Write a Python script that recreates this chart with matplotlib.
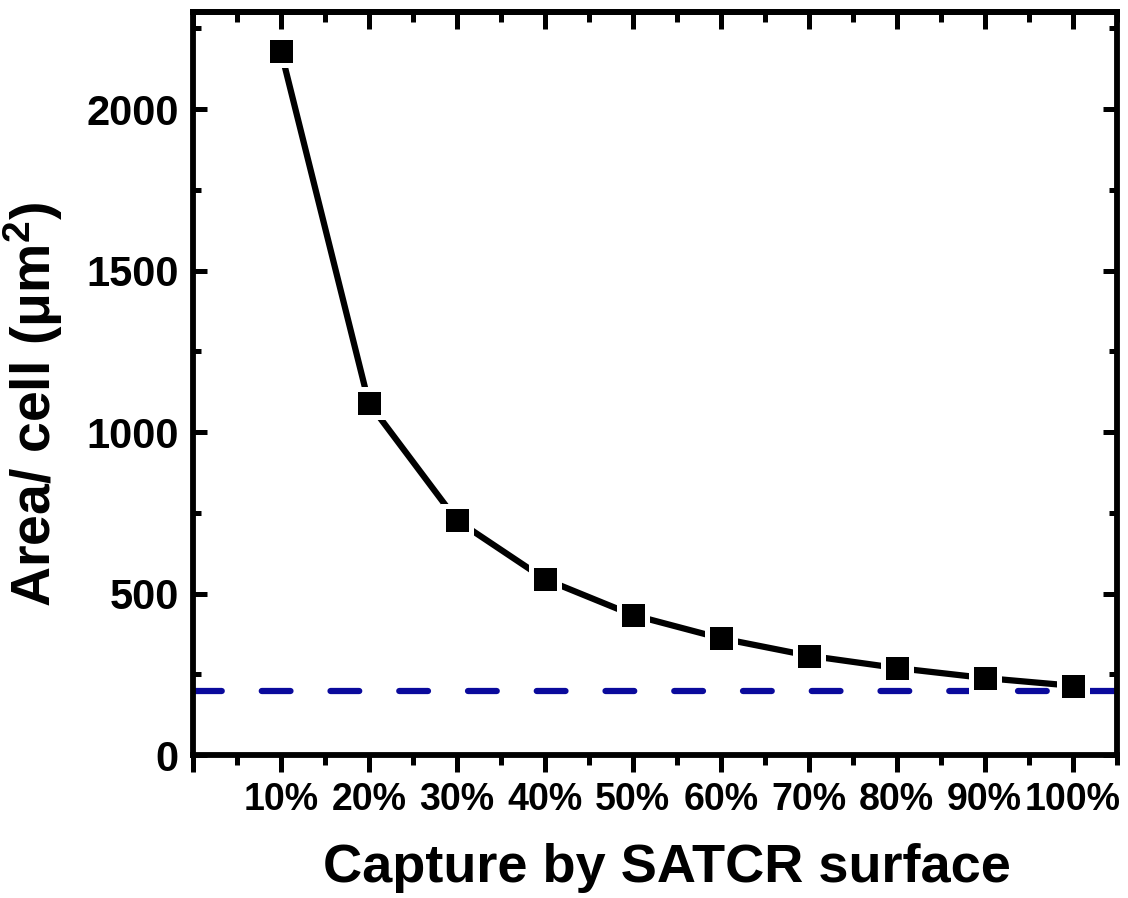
import numpy as np
import matplotlib
matplotlib.use("Agg")
import matplotlib.pyplot as plt
from matplotlib.ticker import FixedLocator, MultipleLocator

# data
capture = [0.1, 0.2, 0.3, 0.4, 0.5, 0.6, 0.7, 0.8, 0.9, 1.0]
area = [2180, 1090, 727, 545, 434, 362, 308, 270, 239, 215]
ref_level = 200
xtick_pos = [0.0, 0.1, 0.2, 0.3, 0.4, 0.5, 0.6, 0.7, 0.8, 0.9, 1.0]
xtick_lab = ['', '10%', '20%', '30%', '40%', '50%', '60%', '70%', '80%', '90%', '100%']

plt.rcParams['font.family'] = ['Liberation Sans', 'DejaVu Sans']
plt.rcParams['font.weight'] = 'bold'
plt.rcParams['mathtext.fontset'] = 'custom'
plt.rcParams['mathtext.rm'] = 'Liberation Sans:bold'
plt.rcParams['mathtext.it'] = 'Liberation Sans:bold'
plt.rcParams['mathtext.bf'] = 'Liberation Sans:bold'

fig = plt.figure(figsize=(11.28, 8.98), dpi=100)
ax = fig.add_axes([0.171, 0.159, 0.819, 0.8275])

# reference level (dashed blue)
ax.axhline(ref_level, color='#0a0a9c', lw=4.5, dashes=(4.6, 6.4),
           dash_capstyle='round', zorder=2)

# curve with squares; white edge gives the gap between line and marker
ax.plot(capture, area, color='black', lw=4.5, solid_capstyle='round',
        marker='s', ms=19.5, mfc='black', mec='white', mew=3.6, zorder=3)

ax.set_xlim(0, 1.05)
ax.set_ylim(0, 2300)

ax.xaxis.set_major_locator(FixedLocator(xtick_pos))
ax.set_xticklabels(xtick_lab)
ax.xaxis.set_minor_locator(FixedLocator(np.arange(0.05, 1.06, 0.1)))
ax.yaxis.set_major_locator(MultipleLocator(500))
ax.yaxis.set_minor_locator(MultipleLocator(250))

for s in ax.spines.values():
    s.set_linewidth(4.2)

ax.tick_params(axis='x', which='both', direction='out', width=3.6,
               top=False, labelsize=27, pad=7)
ax.tick_params(axis='x', which='major', length=12)
ax.tick_params(axis='x', which='minor', length=7)
ax.tick_params(axis='y', which='both', direction='in', width=3.6,
               right=True, labelsize=30, pad=10)
ax.tick_params(axis='y', which='major', length=10)
ax.tick_params(axis='y', which='minor', length=6)

# top axis: ticks pointing in, no labels
top = ax.secondary_xaxis('top')
top.xaxis.set_major_locator(FixedLocator(xtick_pos))
top.xaxis.set_minor_locator(FixedLocator(np.arange(0.05, 1.06, 0.1)))
top.tick_params(which='both', direction='in', width=3.6, labeltop=False)
top.tick_params(which='major', length=12)
top.tick_params(which='minor', length=7)
top.spines['top'].set_linewidth(4.2)

ax.set_xlabel('Capture by SATCR surface', fontsize=39, fontweight='bold')
ax.set_ylabel('Area/ cell (μm$^{2}$)', fontsize=40, fontweight='bold')
ax.xaxis.set_label_coords(0.513, -0.118)
ax.yaxis.set_label_coords(-0.138, 0.472)

fig.savefig('out.png', dpi=100)
